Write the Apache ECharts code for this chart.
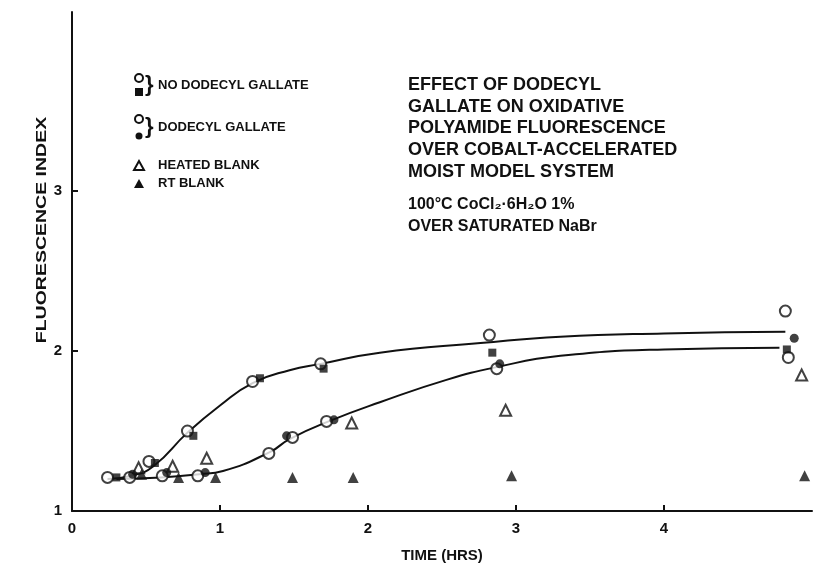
<!DOCTYPE html>
<html><head><meta charset="utf-8">
<script src="https://cdn.jsdelivr.net/npm/echarts@6/dist/echarts.min.js"></script>
<style>html,body{margin:0;padding:0;background:#fff}#c{width:817px;height:577px}</style>
</head><body><div id="c"></div>
<script>
// ---- data (hours, fluorescence index) ----
const noDgOpenX   = [0.24, 0.52, 0.78, 1.22, 1.68, 2.82, 4.82];
const noDgOpenY   = [1.21, 1.31, 1.50, 1.81, 1.92, 2.10, 2.25];
const noDgFillX   = [0.30, 0.56, 0.82, 1.27, 1.70, 2.84, 4.83];
const noDgFillY   = [1.21, 1.30, 1.47, 1.83, 1.89, 1.99, 2.01];
const dgOpenX     = [0.39, 0.61, 0.85, 1.33, 1.49, 1.72, 2.87, 4.84];
const dgOpenY     = [1.21, 1.22, 1.22, 1.36, 1.46, 1.56, 1.89, 1.96];
const dgFillX     = [0.41, 0.64, 0.90, 1.45, 1.77, 2.89, 4.88];
const dgFillY     = [1.23, 1.24, 1.24, 1.47, 1.57, 1.92, 2.08];
const heatedX     = [0.45, 0.68, 0.91, 1.89, 2.93, 4.93];
const heatedY     = [1.27, 1.28, 1.33, 1.55, 1.63, 1.85];
const rtX         = [0.47, 0.72, 0.97, 1.49, 1.90, 2.97, 4.95];
const rtY         = [1.23, 1.21, 1.21, 1.21, 1.21, 1.22, 1.22];
// fitted curves
const fitTopX = [0.24, 0.40, 0.55, 0.78, 1.00, 1.22, 1.47, 1.68, 2.08, 2.76, 3.30, 4.00, 4.82];
const fitTopY = [1.20, 1.22, 1.28, 1.49, 1.66, 1.80, 1.88, 1.92, 1.99, 2.05, 2.09, 2.11, 2.12];
const fitLowX = [0.30, 0.60, 0.86, 1.02, 1.34, 1.47, 1.76, 2.08, 2.53, 2.87, 3.30, 4.00, 4.78];
const fitLowY = [1.20, 1.21, 1.23, 1.25, 1.37, 1.45, 1.57, 1.68, 1.82, 1.90, 1.97, 2.01, 2.02];
const xTicks = ['0', '1', '2', '3', '4'];
const yTicks = ['1', '2', '3'];

const zip = (xs, ys) => xs.map((x, i) => [x, ys[i]]);
const FONT = '"Liberation Sans", Arial, Helvetica, sans-serif';
const BLK = '#111';

const chart = echarts.init(document.getElementById('c'), null, {renderer: 'canvas'});

const openSym = (sym, size) => ({type: 'scatter', symbol: sym, symbolSize: size,
  itemStyle: {color: '#fff', borderColor: BLK, borderWidth: 2}, z: 5});
const fillSym = (sym, size) => ({type: 'scatter', symbol: sym, symbolSize: size,
  itemStyle: {color: BLK}, z: 6});

const annoLines = ['EFFECT OF DODECYL', 'GALLATE ON OXIDATIVE', 'POLYAMIDE FLUORESCENCE',
  'OVER COBALT-ACCELERATED', 'MOIST MODEL SYSTEM'];

const graphics = [];
// y-axis title
graphics.push({type: 'text', x: 42, y: 230, rotation: Math.PI / 2, scaleX: 1.3,
  style: {text: 'FLUORESCENCE INDEX', font: 'bold 15px ' + FONT, fill: BLK,
    align: 'center', verticalAlign: 'middle'}});
// legend
graphics.push({type: 'circle', shape: {cx: 139, cy: 78, r: 4}, style: {fill: '#fff', stroke: BLK, lineWidth: 2}});
graphics.push({type: 'rect', shape: {x: 135, y: 88, width: 8, height: 8}, style: {fill: BLK}});
graphics.push({type: 'text', x: 145, y: 85, style: {text: '}', font: 'bold 22px ' + FONT, fill: BLK, verticalAlign: 'middle'}});
graphics.push({type: 'text', x: 158, y: 85, style: {text: 'NO DODECYL GALLATE', font: 'bold 13px ' + FONT, fill: BLK, verticalAlign: 'middle'}});
graphics.push({type: 'circle', shape: {cx: 139, cy: 119, r: 4}, style: {fill: '#fff', stroke: BLK, lineWidth: 2}});
graphics.push({type: 'circle', shape: {cx: 139, cy: 136, r: 3.5}, style: {fill: BLK}});
graphics.push({type: 'text', x: 145, y: 127, style: {text: '}', font: 'bold 22px ' + FONT, fill: BLK, verticalAlign: 'middle'}});
graphics.push({type: 'text', x: 158, y: 127, style: {text: 'DODECYL GALLATE', font: 'bold 13px ' + FONT, fill: BLK, verticalAlign: 'middle'}});
graphics.push({type: 'polygon', shape: {points: [[139, 161], [134, 170], [144, 170]]}, style: {fill: '#fff', stroke: BLK, lineWidth: 2}});
graphics.push({type: 'text', x: 158, y: 165, style: {text: 'HEATED BLANK', font: 'bold 13px ' + FONT, fill: BLK, verticalAlign: 'middle'}});
graphics.push({type: 'polygon', shape: {points: [[139, 179], [134, 188], [144, 188]]}, style: {fill: BLK}});
graphics.push({type: 'text', x: 158, y: 183, style: {text: 'RT BLANK', font: 'bold 13px ' + FONT, fill: BLK, verticalAlign: 'middle'}});
// annotation
annoLines.forEach((t, i) => graphics.push({type: 'text', x: 408, y: 85 + i * 21.7,
  style: {text: t, font: 'bold 18px ' + FONT, fill: BLK, verticalAlign: 'middle'}}));
graphics.push({type: 'text', x: 408, y: 205,
  style: {text: '100°C CoCl₂·6H₂O 1%', font: 'bold 16px ' + FONT, fill: BLK, verticalAlign: 'middle'}});
graphics.push({type: 'text', x: 408, y: 227,
  style: {text: 'OVER SATURATED NaBr', font: 'bold 16px ' + FONT, fill: BLK, verticalAlign: 'middle'}});

chart.setOption({
  animation: false,
  backgroundColor: '#fff',
  grid: {left: 72, right: 5, top: 12, bottom: 66, containLabel: false},
  xAxis: {type: 'value', min: 0, max: 5, interval: 1,
    name: 'TIME (HRS)', nameLocation: 'middle', nameGap: 37,
    nameTextStyle: {fontFamily: FONT, fontWeight: 'bold', fontSize: 15, color: BLK},
    axisLine: {lineStyle: {color: BLK, width: 2}},
    axisTick: {inside: true, length: 6, lineStyle: {color: BLK, width: 2},
      customValues: xTicks.map(Number).filter(v => v > 0)},
    axisLabel: {fontFamily: FONT, fontWeight: 'bold', fontSize: 15, color: BLK, margin: 10,
      customValues: xTicks.map(Number)},
    splitLine: {show: false}},
  yAxis: {type: 'value', min: 1, max: 4.12, interval: 1,
    axisLine: {show: true, lineStyle: {color: BLK, width: 2}},
    axisTick: {show: true, inside: true, length: 6, lineStyle: {color: BLK, width: 2},
      customValues: yTicks.map(Number).filter(v => v > 1)},
    axisLabel: {fontFamily: FONT, fontWeight: 'bold', fontSize: 15, color: BLK, margin: 10,
      customValues: yTicks.map(Number)},
    splitLine: {show: false}},
  graphic: graphics,
  series: [
    {type: 'line', smooth: 0.5, symbol: 'none', data: zip(fitTopX, fitTopY), lineStyle: {color: BLK, width: 2}, z: 3},
    {type: 'line', smooth: 0.5, symbol: 'none', data: zip(fitLowX, fitLowY), lineStyle: {color: BLK, width: 2}, z: 3},
    Object.assign(openSym('circle', 11), {name: 'No dodecyl gallate (open)', data: zip(noDgOpenX, noDgOpenY)}),
    Object.assign(fillSym('rect', 8), {name: 'No dodecyl gallate (filled)', data: zip(noDgFillX, noDgFillY)}),
    Object.assign(openSym('circle', 11), {name: 'Dodecyl gallate (open)', data: zip(dgOpenX, dgOpenY)}),
    Object.assign(fillSym('circle', 9), {name: 'Dodecyl gallate (filled)', data: zip(dgFillX, dgFillY)}),
    Object.assign(openSym('triangle', 11), {name: 'Heated blank', data: zip(heatedX, heatedY)}),
    Object.assign(fillSym('triangle', 11), {name: 'RT blank', data: zip(rtX, rtY)})
  ]
});
</script></body></html>
